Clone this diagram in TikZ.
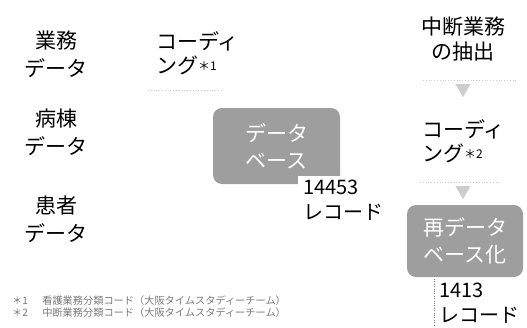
\documentclass[tikz,border=0pt]{standalone}
\usepackage{fontspec}
\setmainfont{Noto Sans CJK JP}
\usetikzlibrary{arrows.meta}
\definecolor{boxgray}{RGB}{158,158,158}
\definecolor{faint}{RGB}{205,205,205}
\definecolor{notegray}{RGB}{120,120,120}
\begin{document}
\begin{tikzpicture}[x=1pt,y=-1pt,
  lbl/.style={font=\fontsize{21}{28}\selectfont, align=center, inner sep=0pt},
  codelbl/.style={font=\fontsize{21}{24}\selectfont, align=left, inner sep=0pt, anchor=west},
  dbbox/.style={rectangle, rounded corners=9pt, fill=boxgray, text=white, align=center,
    font=\fontsize{21}{27}\selectfont, inner sep=0pt},
  reclbl/.style={fill=white, align=left, anchor=north west, inner xsep=5pt, inner ysep=4pt,
    font=\fontsize{20}{25}\selectfont},
  sep/.style={dotted, faint, line width=0.8pt},
  tri/.style={-{Triangle[width=15pt,length=13pt]}, faint, line width=0.1pt},
  note/.style={font=\fontsize{10.2}{12}\selectfont, text=notegray, anchor=west, inner sep=0pt},
  smallmark/.style={}
]
\useasboundingbox (0,0) rectangle (527,327);
% left column
\node[lbl] (gyomu) at (56,54) {業務\\データ};
\node[lbl] (byoto) at (56,132) {病棟\\データ};
\node[lbl] (kanja) at (56,219) {患者\\データ};
\node[codelbl] (code1) at (156,53) {コーディ\\ング\raisebox{3pt}{\fontsize{12}{12}\selectfont ＊1}};
\draw[sep] (148,90) -- (222,90);
% database
\node[dbbox, minimum width=127pt, minimum height=76pt] (db) at (276.5,146) {データ\\ベース};
\node[reclbl] (rec1) at (298,176) {14453\\レコード};
% right column
\node[lbl, font=\fontsize{21}{25}\selectfont] (extract) at (463,39) {中断業務\\の抽出};
\draw[sep] (423,80) -- (517,80);
\node[codelbl] (code2) at (422,141) {コーディ\\ング\raisebox{3pt}{\fontsize{12}{12}\selectfont ＊2}};
\draw[sep] (420,182) -- (500,182);
\coordinate (t1) at (463,84);
\coordinate (t1e) at (463,97);
\coordinate (t2) at (463,186);
\coordinate (t2e) at (463,199);
\draw[tri] (t1) -- (t1e);
\draw[tri] (t2) -- (t2e);
\node[dbbox, minimum width=116pt, minimum height=72pt] (redb) at (465,241) {再データ\\ベース化};
\node[reclbl] (rec2) at (434,279) {1413\\レコード};
\draw[dotted, notegray] (rec2.north west) -- (rec2.north west |- 0,327);
% footnotes
\node[note] (n1) at (12,301) {＊1\hspace{1.4em}看護業務分類コード（大阪タイムスタディーチーム）};
\node[note] (n2) at (12,313) {＊2\hspace{1.4em}中断業務分類コード（大阪タイムスタディーチーム）};
\end{tikzpicture}
\end{document}
